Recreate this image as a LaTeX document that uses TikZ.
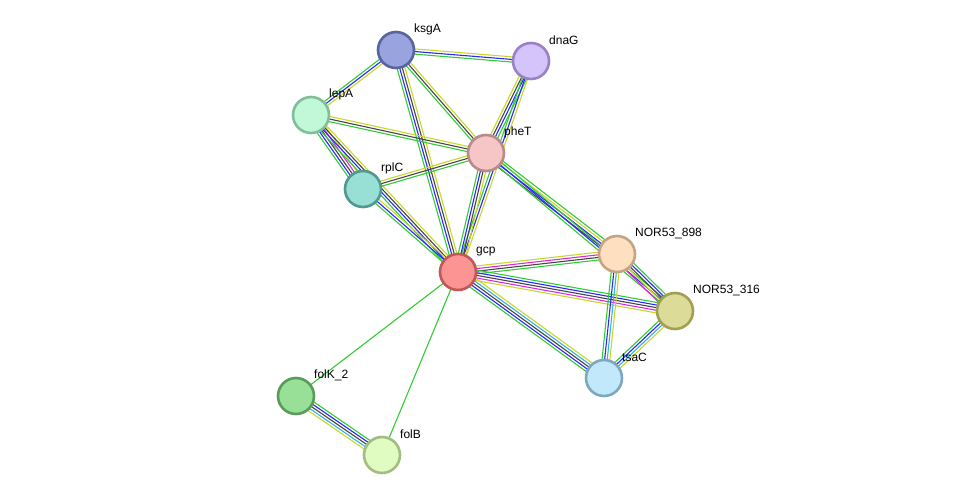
\documentclass[tikz,border=0pt]{standalone}
\usepackage{fontspec}
\setmainfont{Liberation Sans}
\usetikzlibrary{calc}
\pgfdeclarelayer{bg}
\pgfsetlayers{bg,main}
\definecolor{eG}{RGB}{51,204,51}
\definecolor{eB}{RGB}{40,40,255}
\definecolor{eK}{RGB}{70,70,70}
\definecolor{eY}{RGB}{200,216,42}
\definecolor{eM}{RGB}{225,40,225}
\definecolor{eC}{RGB}{50,180,225}
\definecolor{fksgA}{HTML}{99A3DD}\definecolor{bksgA}{HTML}{5864A0}
\definecolor{fdnaG}{HTML}{D4C4FB}\definecolor{bdnaG}{HTML}{9882C6}
\definecolor{flepA}{HTML}{C0F8D8}\definecolor{blepA}{HTML}{82BE9B}
\definecolor{fpheT}{HTML}{F6C6C6}\definecolor{bpheT}{HTML}{B88A8A}
\definecolor{frplC}{HTML}{98E0D6}\definecolor{brplC}{HTML}{509890}
\definecolor{fgcp}{HTML}{FC9494}\definecolor{bgcp}{HTML}{C05858}
\definecolor{fn898}{HTML}{FEE0C0}\definecolor{bn898}{HTML}{C4A484}
\definecolor{fn316}{HTML}{DCDC98}\definecolor{bn316}{HTML}{A0A052}
\definecolor{ftsaC}{HTML}{C2E8FC}\definecolor{btsaC}{HTML}{7EA8C0}
\definecolor{ffolK}{HTML}{98E098}\definecolor{bfolK}{HTML}{5A9A5A}
\definecolor{ffolB}{HTML}{E0FCC0}\definecolor{bfolB}{HTML}{A4BC84}
\tikzset{
  prot/.style={circle, minimum size=36pt, inner sep=0pt, line width=2.6pt},
  plabel/.style={anchor=west, inner sep=0pt, font=\fontsize{12}{14}\selectfont},
  eline/.style={line width=1.1pt}
}
\newcommand\edg[3]{%
  \begin{pgfonlayer}{bg}
  \foreach \ecol [count=\ei] in {#3} {\xdef\eN{\ei}}
  \foreach \ecol [count=\ei] in {#3} {
    \pgfmathsetmacro\eoff{(\ei-(\eN+1)/2)*2.6}
    \draw[eline, \ecol] ($(#1.center)!\eoff pt!90:(#2.center)$) -- ($(#2.center)!\eoff pt!-90:(#1.center)$);
  }
  \end{pgfonlayer}}
\newcommand\prot[4]{% name, x, y, label
  \node[prot, fill=f#1, draw=b#1] (#1) at (#2,#3) {};
  \node[plabel] (#1-l) at (#2+18,#3-20.5) {#4};
}
\begin{document}
\begin{tikzpicture}[x=1pt,y=-1pt]
\begin{pgfonlayer}{bg}
\fill[white] (0,0) rectangle (975,501);
\end{pgfonlayer}
\useasboundingbox (0,0) rectangle (975,501);
\prot{ksgA}{396}{50}{ksgA}
\prot{dnaG}{531}{61}{dnaG}
\prot{lepA}{311}{115}{lepA}
\prot{pheT}{486}{153}{pheT}
\prot{rplC}{363}{189}{rplC}
\prot{gcp}{458}{272}{gcp}
\prot{n898}{617}{254}{NOR53\_898}
\prot{n316}{675}{311}{NOR53\_316}
\prot{tsaC}{604}{378}{tsaC}
\prot{folK}{296}{396}{folK\_2}
\prot{folB}{382}{455}{folB}
\edg{ksgA}{dnaG}{eG,eB,eY}
\edg{ksgA}{lepA}{eG,eB,eY}
\edg{ksgA}{pheT}{eG,eK,eY}
\edg{ksgA}{gcp}{eG,eB,eK,eY}
\edg{dnaG}{pheT}{eY,eK,eB,eG}
\edg{dnaG}{gcp}{eG,eB,eY}
\edg{lepA}{pheT}{eG,eK,eY}
\edg{lepA}{rplC}{eG,eB,eK,eM,eY}
\edg{lepA}{gcp}{eG,eB,eK,eY}
\edg{rplC}{pheT}{eG,eK,eY}
\edg{rplC}{gcp}{eG,eB,eY}
\edg{pheT}{gcp}{eG,eB,eK,eY}
\edg{pheT}{n898}{eK,eB,eY,eG}
\edg{pheT}{n316}{eG,eB,eG}
\edg{gcp}{n898}{eG,eK,eM,eY}
\edg{gcp}{n316}{eY,eM,eK,eB,eG}
\edg{gcp}{tsaC}{eG,eB,eK,eC,eY}
\edg{n898}{n316}{eM,eY,eK,eB,eG}
\edg{n898}{tsaC}{eG,eB,eC,eY}
\edg{n316}{tsaC}{eG,eB,eC,eY}
\edg{gcp}{folK}{eG}
\edg{gcp}{folB}{eG}
\edg{folK}{folB}{eY,eC,eK,eB,eG}
\end{tikzpicture}
\end{document}
